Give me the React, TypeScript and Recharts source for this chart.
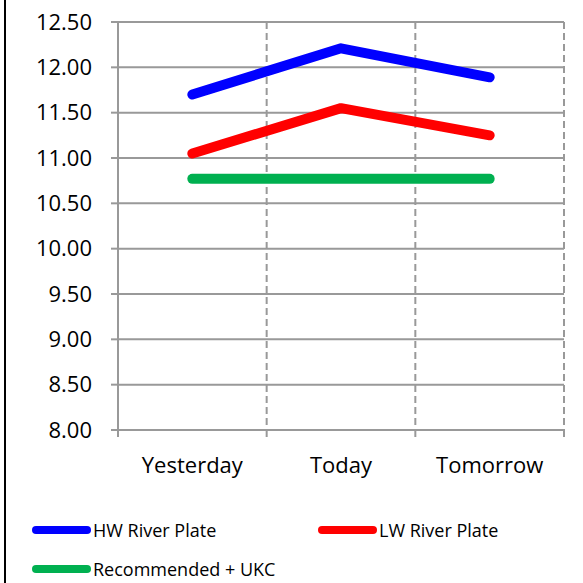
import { LineChart, Line, XAxis, YAxis, CartesianGrid } from 'recharts';

const categories = ['Yesterday', 'Today', 'Tomorrow'];
const hwRiverPlate = [11.7, 12.21, 11.89];
const lwRiverPlate = [11.05, 11.55, 11.25];
const recommendedUkc = [10.77, 10.77, 10.77];
const yTicks = [8, 8.5, 9, 9.5, 10, 10.5, 11, 11.5, 12, 12.5];

const series = [
  { key: 'hw', name: 'HW River Plate', color: '#0000FF', values: hwRiverPlate },
  { key: 'lw', name: 'LW River Plate', color: '#FF0000', values: lwRiverPlate },
  { key: 'ukc', name: 'Recommended + UKC', color: '#00B050', values: recommendedUkc },
];

const data = categories.map((name, i) => {
  const row: Record<string, string | number> = { name };
  series.forEach(s => { row[s.key] = s.values[i]; });
  return row;
});

const gridColor = '#999999';
const font = '"Open Sans", sans-serif';

const W = 583;
const H = 583;
const margin = { top: 22, right: 19, left: 0, bottom: 103 };
const yAxisWidth = 118;
const plotWidth = W - margin.left - margin.right - yAxisWidth;
// points sit in the middle of each category band
const halfBand = plotWidth / (2 * categories.length);
const xTickSize = 7;
const xTickMargin = 20;

// category labels plus tick marks on the band boundaries
const CategoryTick = (props: any) => {
  const { x, y, payload, index } = props;
  const lineTop = y - xTickSize - xTickMargin;
  const marks = [x - halfBand];
  if (index === categories.length - 1) marks.push(x + halfBand);
  return (
    <g>
      {marks.map((mx, i) => (
        <line key={i} x1={mx} x2={mx} y1={lineTop} y2={lineTop + xTickSize} stroke={gridColor} strokeWidth={2} />
      ))}
      <text x={x} y={y} dy="0.71em" textAnchor="middle" fill="#000" fontSize={22} fontFamily={font}>
        {payload.value}
      </text>
    </g>
  );
};

// legend slot positions (two columns, two rows)
const legendSlots = [
  { left: 31, top: 521 },
  { left: 317, top: 521 },
  { left: 31, top: 560 },
];

export default function App() {
  return (
    <div style={{ position: 'absolute', top: 0, left: 0, width: W, height: H, background: '#fff', fontFamily: font, overflow: 'hidden' }}>
      <div style={{ position: 'absolute', left: 4, top: 0, width: 2, height: H, background: '#000' }} />
      <LineChart width={W} height={H} data={data} margin={margin}>
        <CartesianGrid vertical={false} stroke={gridColor} strokeWidth={2} />
        <CartesianGrid
          horizontal={false}
          stroke={gridColor}
          strokeWidth={2}
          strokeDasharray="7 4"
          verticalCoordinatesGenerator={({ offset }: any) =>
            categories.map((_, i) => offset.left + (i + 1) * 2 * halfBand)
          }
        />
        <XAxis
          dataKey="name"
          interval={0}
          padding={{ left: halfBand, right: halfBand }}
          axisLine={{ stroke: gridColor, strokeWidth: 2 }}
          tickLine={false}
          tickSize={xTickSize}
          tickMargin={xTickMargin}
          height={50}
          tick={CategoryTick}
        />
        <YAxis
          domain={[8, 12.5]}
          ticks={yTicks}
          interval={0}
          width={yAxisWidth}
          tickFormatter={(v: number) => v.toFixed(2)}
          axisLine={{ stroke: gridColor, strokeWidth: 2 }}
          tickLine={{ stroke: gridColor, strokeWidth: 2 }}
          tickSize={7}
          tickMargin={19}
          tick={{ fill: '#000', fontSize: 22, fontFamily: font }}
        />
        {series.map(s => (
          <Line
            key={s.key}
            dataKey={s.key}
            name={s.name}
            type="linear"
            stroke={s.color}
            strokeWidth={10}
            strokeLinecap="round"
            strokeLinejoin="round"
            dot={false}
            activeDot={false}
            isAnimationActive={false}
          />
        ))}
      </LineChart>
      {series.map((s, i) => (
        <div
          key={s.key}
          style={{ position: 'absolute', left: legendSlots[i].left, top: legendSlots[i].top, display: 'flex', alignItems: 'center', height: 18 }}
        >
          <svg width={61} height={12}>
            <line x1={5} y1={6} x2={56} y2={6} stroke={s.color} strokeWidth={8} strokeLinecap="round" />
          </svg>
          <span style={{ fontSize: 18, lineHeight: '18px', color: '#000', marginLeft: 1, whiteSpace: 'nowrap' }}>{s.name}</span>
        </div>
      ))}
    </div>
  );
}
